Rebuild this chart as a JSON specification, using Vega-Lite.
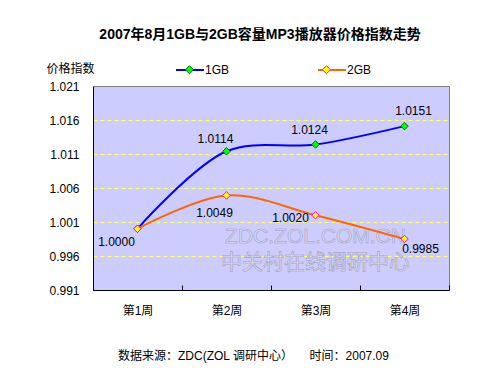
{
  "$schema": "https://vega.github.io/schema/vega-lite/v6.json",
  "width": 356,
  "height": 204,
  "autosize": {"type": "none"},
  "padding": {"left": 93, "top": 86, "right": 51, "bottom": 85},
  "background": "white",
  "config": {
    "font": "Liberation Sans, Noto Sans CJK SC",
    "view": {"fill": "#CCCCFF", "stroke": "#808080", "strokeWidth": 1},
    "axis": {"labelColor": "black", "titleColor": "black", "labelFontSize": 12, "titleFontSize": 12, "titleFontWeight": "normal", "domainColor": "black", "tickColor": "black"}
  },
  "title": {
    "text": "2007年8月1GB与2GB容量MP3播放器价格指数走势",
    "font": "Liberation Sans, Noto Sans CJK SC",
    "fontSize": 14,
    "fontWeight": "bold",
    "color": "black",
    "anchor": "middle",
    "frame": "group",
    "dx": -11,
    "offset": 13
  },
  "datasets": {
    "idx": [
      {"week": "第1周", "series": "1GB", "value": 1.0000},
      {"week": "第2周", "series": "1GB", "value": 1.0114},
      {"week": "第3周", "series": "1GB", "value": 1.0124},
      {"week": "第4周", "series": "1GB", "value": 1.0151},
      {"week": "第1周", "series": "2GB", "value": 1.0000},
      {"week": "第2周", "series": "2GB", "value": 1.0049},
      {"week": "第3周", "series": "2GB", "value": 1.0020},
      {"week": "第4周", "series": "2GB", "value": 0.9985}
    ],
    "wm": [
      {"week": "第3周", "text": "ZDC.ZOL.COM.CN", "value": 0.9988},
      {"week": "第3周", "text": "中关村在线调研中心", "value": 0.9950}
    ]
  },
  "data": {"name": "idx"},
  "encoding": {
    "x": {
      "field": "week",
      "type": "nominal",
      "sort": null,
      "scale": {"type": "band", "domain": ["第1周", "第2周", "第3周", "第4周"], "paddingInner": 0, "paddingOuter": 0},
      "axis": {
        "title": "数据来源：ZDC(ZOL 调研中心）\u00a0\u00a0\u00a0\u00a0\u00a0时间：2007.09",
        "titleX": 160,
        "titleY": 65,
        "titleAlign": "center",
        "titleBaseline": "middle",
        "labelAngle": 0,
        "labelPadding": 20,
        "tickBand": "extent",
        "tickSize": -5,
        "grid": false
      }
    },
    "y": {
      "field": "value",
      "type": "quantitative",
      "scale": {"domain": [0.991, 1.021], "zero": false, "nice": false},
      "axis": {
        "values": [0.991, 0.996, 1.001, 1.006, 1.011, 1.016, 1.021],
        "format": ".3f",
        "title": "价格指数",
        "titleAngle": 0,
        "titleX": -23,
        "titleY": -18,
        "titleAlign": "center",
        "titleBaseline": "middle",
        "ticks": false,
        "labelPadding": 14,
        "grid": true,
        "gridColor": "#FFFF66",
        "gridDash": [4, 3],
        "gridWidth": 1,
        "gridOpacity": {"condition": {"test": "datum.value < 0.992 || datum.value > 1.02", "value": 0}, "value": 1}
      }
    }
  },
  "layer": [
    {
      "data": {"name": "wm"},
      "mark": {"type": "text", "fontSize": 21, "fill": "#DCDCF0", "stroke": "#A0A0C0", "strokeWidth": 0.6, "font": "Liberation Sans, Noto Sans CJK SC"},
      "encoding": {"text": {"field": "text"}}
    },
    {
      "mark": {"type": "line", "interpolate": "catmull-rom", "strokeWidth": 2},
      "encoding": {
        "stroke": {
          "field": "series",
          "type": "nominal",
          "scale": {"domain": ["1GB", "2GB"], "range": ["#0000FF", "#FF6600"]},
          "legend": {
            "orient": "none",
            "legendX": 82,
            "legendY": -31,
            "direction": "horizontal",
            "title": null,
            "symbolType": "stroke",
            "symbolSize": 784,
            "symbolStrokeWidth": 2,
            "labelFontSize": 12,
            "labelColor": "black",
            "labelOffset": 0,
            "columnPadding": 84
          }
        }
      }
    },
    {
      "mark": {"type": "point", "shape": "diamond", "filled": true, "size": 56, "strokeWidth": 1, "opacity": 1},
      "encoding": {
        "fill": {
          "field": "series",
          "type": "nominal",
          "scale": {"range": ["#00FF00", "#FFFF00"]},
          "legend": {
            "orient": "none",
            "legendX": 82,
            "legendY": -31,
            "direction": "horizontal",
            "title": null,
            "symbolType": "M0,-0.29L0.29,0L0,0.29L-0.29,0Z",
            "symbolSize": 784,
            "symbolStrokeWidth": 1,
            "labelFontSize": 12,
            "labelExpr": "''",
            "labelOffset": 0,
            "columnPadding": 108
          }
        },
        "stroke": {
          "field": "series",
          "type": "nominal",
          "scale": {"range": ["#007000", "#FF00FF"]},
          "legend": {
            "orient": "none",
            "legendX": 82,
            "legendY": -31,
            "direction": "horizontal",
            "title": null,
            "symbolType": "M0,-0.29L0.29,0L0,0.29L-0.29,0Z",
            "symbolSize": 784,
            "symbolStrokeWidth": 1,
            "labelFontSize": 12,
            "labelExpr": "''",
            "labelOffset": 0,
            "columnPadding": 108
          }
        }
      }
    },
    {
      "transform": [{"filter": "datum.series == '1GB' && datum.week == '第1周'"}],
      "mark": {"type": "text", "fontSize": 12, "color": "black", "dx": -21, "dy": 13},
      "encoding": {"text": {"field": "value", "format": ".4f"}}
    },
    {
      "transform": [{"filter": "datum.series == '1GB' && datum.week == '第2周'"}],
      "mark": {"type": "text", "fontSize": 12, "color": "black", "dx": -11, "dy": -12},
      "encoding": {"text": {"field": "value", "format": ".4f"}}
    },
    {
      "transform": [{"filter": "datum.series == '1GB' && datum.week == '第3周'"}],
      "mark": {"type": "text", "fontSize": 12, "color": "black", "dx": -6, "dy": -14},
      "encoding": {"text": {"field": "value", "format": ".4f"}}
    },
    {
      "transform": [{"filter": "datum.series == '1GB' && datum.week == '第4周'"}],
      "mark": {"type": "text", "fontSize": 12, "color": "black", "dx": 9, "dy": -15},
      "encoding": {"text": {"field": "value", "format": ".4f"}}
    },
    {
      "transform": [{"filter": "datum.series == '2GB' && datum.week == '第2周'"}],
      "mark": {"type": "text", "fontSize": 12, "color": "black", "dx": -12, "dy": 18},
      "encoding": {"text": {"field": "value", "format": ".4f"}}
    },
    {
      "transform": [{"filter": "datum.series == '2GB' && datum.week == '第3周'"}],
      "mark": {"type": "text", "fontSize": 12, "color": "black", "dx": -25, "dy": 3},
      "encoding": {"text": {"field": "value", "format": ".4f"}}
    },
    {
      "transform": [{"filter": "datum.series == '2GB' && datum.week == '第4周'"}],
      "mark": {"type": "text", "fontSize": 12, "color": "black", "dx": 16, "dy": 10},
      "encoding": {"text": {"field": "value", "format": ".4f"}}
    }
  ],
  "resolve": {"scale": {"stroke": "independent", "fill": "independent"}}
}
